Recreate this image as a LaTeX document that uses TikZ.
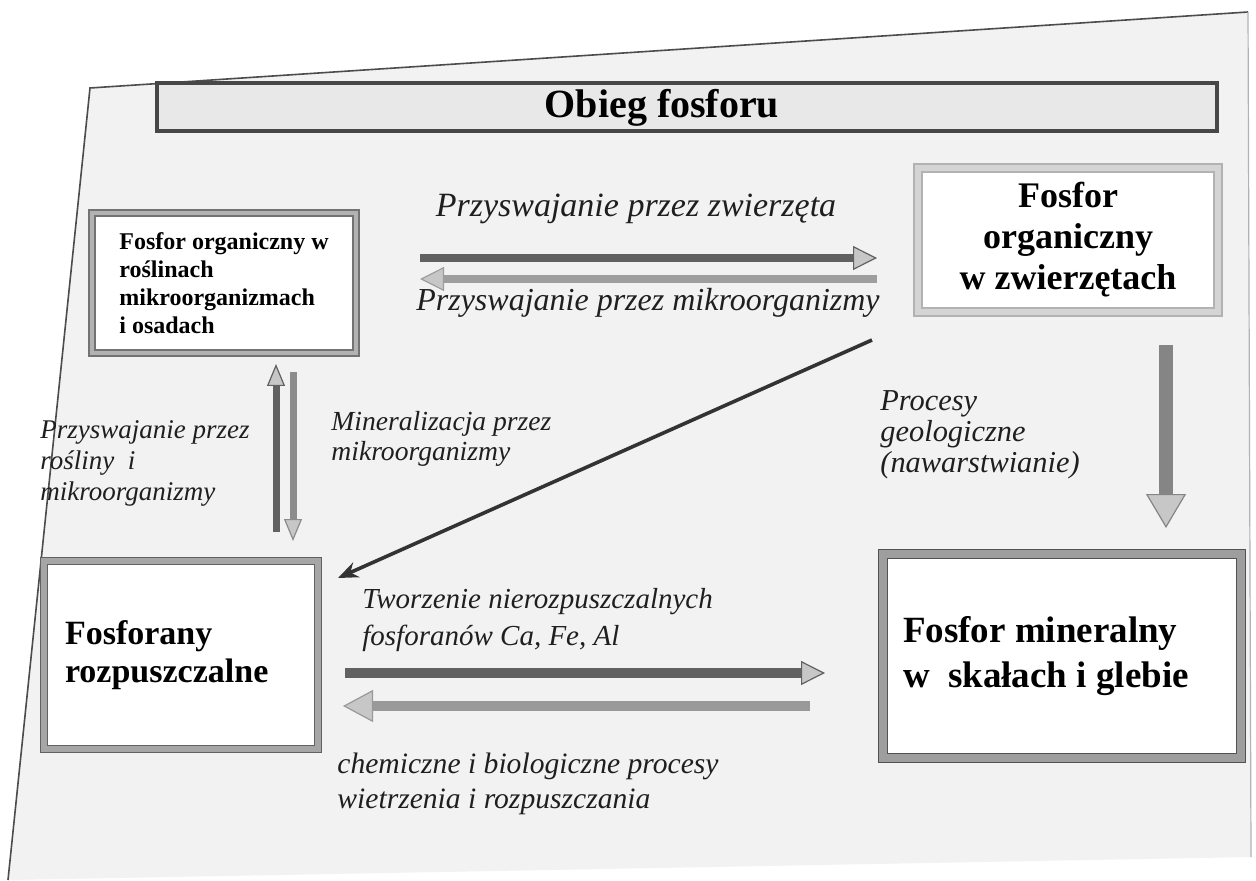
\documentclass[tikz,border=0pt]{standalone}
\usepackage{fontspec}
\setmainfont{Liberation Serif}
\usetikzlibrary{arrows.meta}
\begin{document}
\begin{tikzpicture}[x=0.5pt,y=-0.5pt,
  slide/.style={fill=black!5, draw=none},
  titlebox/.style={draw=black!72, line width=1.6pt, fill=black!9, inner sep=0pt},
  frameA/.style={draw=black!55, double=black!30, double distance=2.4pt, line width=0.7pt, fill=white, inner sep=0pt},
  frameB/.style={draw=black!30, double=black!17, double distance=3.4pt, line width=0.7pt, fill=white, inner sep=0pt},
  frameC/.style={draw=black!62, double=black!35, double distance=2.6pt, line width=0.8pt, fill=white, inner sep=0pt},
  frameD/.style={draw=black!68, double=black!38, double distance=3.6pt, line width=0.9pt, fill=white, inner sep=0pt},
  lab/.style={inner sep=0pt, align=flush left, text=black!88},
  blockarrow/.style n args={4}{line width=#1, draw=#2,
    -{Triangle[length=#3, width=#4, fill=black!22, line width=0.6pt]}},
  thinarrow/.style={line width=1.8pt, draw=black!80, -{Stealth[length=10pt, width=8pt]}}
]
\useasboundingbox (0,0) rectangle (1256,881);
% slide
\fill[white] (0,0) rectangle (1256,881);
\coordinate (s1) at (90,88);
\coordinate (s2) at (1248,12);
\coordinate (s3) at (1251,857);
\coordinate (s4) at (8,880);
\path[slide] (s1) -- (s2) -- (s3) -- (s4) -- cycle;
\draw[black!70, line width=0.8pt] (s4) -- (s1) -- (s2);
\draw[black!30, line width=0.6pt] (s2) -- (s3);

% title
\node[titlebox, minimum width=530pt, minimum height=24pt] (T) at (687,107) {};
\node[inner sep=0pt, font=\bfseries\fontsize{20}{24}\selectfont] (Tt) at (662,108) {Obieg fosforu};

% boxes
\node[frameA, minimum width=132pt, minimum height=70pt, align=flush left,
  font=\bfseries\fontsize{12}{14}\selectfont] (A) at (224,283)
  {Fosfor organiczny w\\roślinach\\mikroorganizmach\\i osadach};
\node[frameB, minimum width=150pt, minimum height=72pt, align=center,
  font=\bfseries\fontsize{18}{20.5}\selectfont] (B) at (1068,240)
  {Fosfor\\organiczny\\w zwierzętach};
\node[frameC, minimum height=94pt, text width=116pt, inner xsep=10.5pt, align=flush left,
  font=\bfseries\fontsize{17}{19}\selectfont] (C) at (181,655)
  {Fosforany\\rozpuszczalne};
\node[frameD, minimum height=102pt, text width=159pt, inner xsep=10pt, align=flush left,
  font=\bfseries\fontsize{18.5}{22.5}\selectfont] (D) at (1062,656)
  {Fosfor mineralny\\w\ \ skałach i glebie};

% arrow end points
\coordinate (a1s) at (420,258); \coordinate (a1e) at (877,258);
\coordinate (a2s) at (877,279); \coordinate (a2e) at (420,279);
\coordinate (u1s) at (276,532); \coordinate (u1e) at (276,364);
\coordinate (d1s) at (293,372); \coordinate (d1e) at (293,541);
\coordinate (g1s) at (872,340); \coordinate (g1e) at (338,578);
\coordinate (v1s) at (1166,345); \coordinate (v1e) at (1166,528);
\coordinate (b1s) at (345,673); \coordinate (b1e) at (825,673);
\coordinate (b2s) at (810,706); \coordinate (b2e) at (343,706);

\draw[blockarrow={4pt}{black!62}{12pt}{12pt}] (a1s) -- (a1e);
\draw[blockarrow={4pt}{black!38}{12pt}{12pt}] (a2s) -- (a2e);
\draw[blockarrow={3.5pt}{black!62}{11pt}{9pt}] (u1s) -- (u1e);
\draw[blockarrow={3.5pt}{black!45}{11pt}{9pt}] (d1s) -- (d1e);
\draw[thinarrow] (g1s) -- (g1e);
\draw[blockarrow={7pt}{black!48}{17pt}{20pt}] (v1s) -- (v1e);
\draw[blockarrow={5pt}{black!62}{12pt}{12pt}] (b1s) -- (b1e);
\draw[blockarrow={5pt}{black!40}{15pt}{16pt}] (b2s) -- (b2e);

% labels (anchored at the baseline of their last line)
\node[lab, anchor=base, font=\itshape\fontsize{17}{19}\selectfont] (L1) at (636,217)
  {Przyswajanie przez zwierzęta};
\node[lab, anchor=base, font=\itshape\fontsize{16}{18}\selectfont] (L2) at (648,311)
  {Przyswajanie przez mikroorganizmy};
\node[lab, anchor=base west, font=\itshape\fontsize{13.5}{15.5}\selectfont] (L3) at (40,500)
  {Przyswajanie przez\\rośliny\ \ i\\mikroorganizmy};
\node[lab, anchor=base west, font=\itshape\fontsize{13.8}{15}\selectfont] (L4) at (331,460)
  {Mineralizacja przez\\mikroorganizmy};
\node[lab, anchor=base west, font=\itshape\fontsize{15.2}{15.5}\selectfont] (L5) at (880,472)
  {Procesy\\geologiczne\\(nawarstwianie)};
\node[lab, anchor=base west, font=\itshape\fontsize{14.5}{18.5}\selectfont] (L6) at (362,645)
  {Tworzenie nierozpuszczalnych\\fosforanów Ca, Fe, Al};
\node[lab, anchor=base west, font=\itshape\fontsize{14.8}{17.5}\selectfont] (L7) at (337,808)
  {chemiczne i biologiczne procesy\\wietrzenia i rozpuszczania};
\end{tikzpicture}
\end{document}
